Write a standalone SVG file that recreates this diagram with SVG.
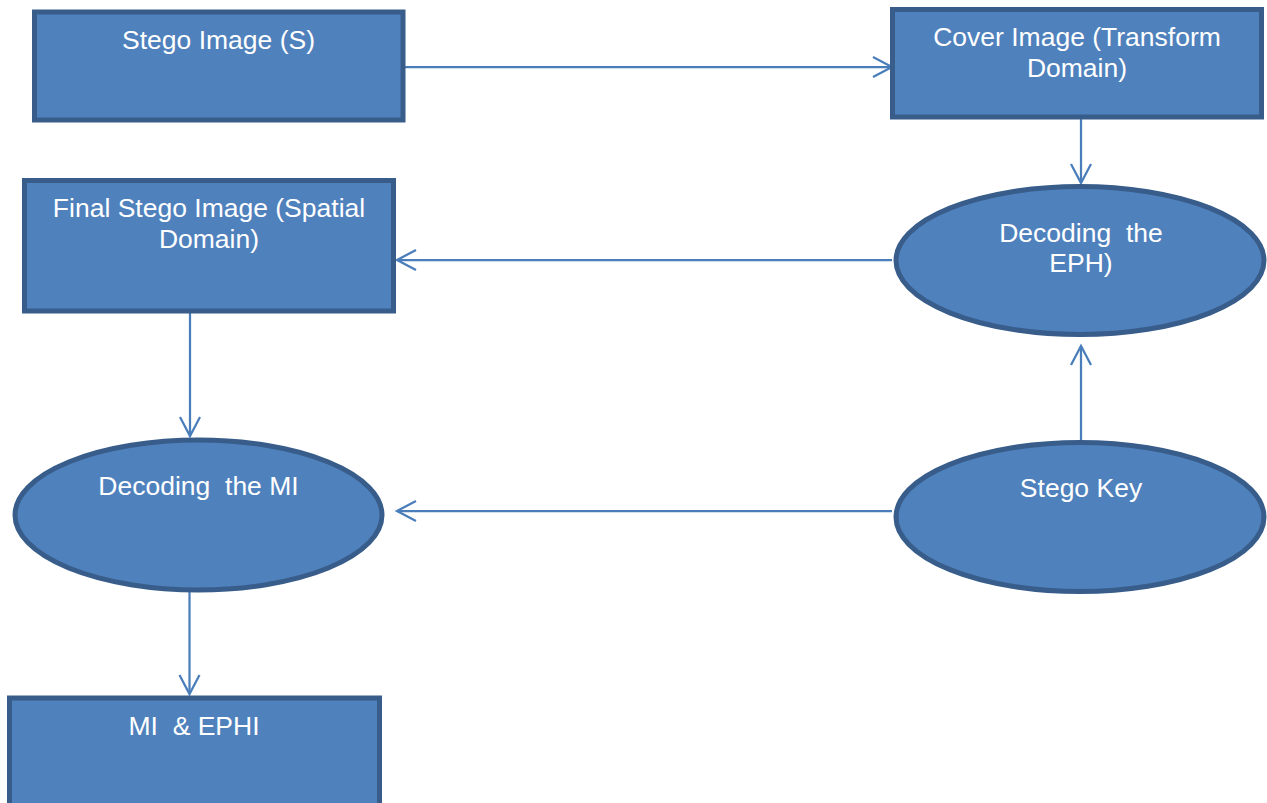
<svg xmlns="http://www.w3.org/2000/svg" width="1267" height="803" viewBox="0 0 1267 803">
<defs>
<style>
.node{fill:#4f81bd;stroke:#385d8a;stroke-width:5}
.lbl{font-family:"Liberation Sans",Arial,sans-serif;font-size:26.5px;fill:#ffffff;text-anchor:middle;white-space:pre}
.conn{stroke:#4a7ebb;stroke-width:2.25;fill:none}
</style>
<marker id="arr" viewBox="0 0 24 24" refX="21" refY="12" markerWidth="24" markerHeight="24" markerUnits="userSpaceOnUse" orient="auto">
<path d="M2,2 L21,12 L2,22" fill="none" stroke="#4a7ebb" stroke-width="2.25"/>
</marker>
</defs>
<rect width="1267" height="803" fill="#ffffff"/>
<g id="connectors">
<line class="conn" x1="403" y1="67" x2="892" y2="67" marker-end="url(#arr)"/>
<line class="conn" x1="1081" y1="119" x2="1081" y2="183" marker-end="url(#arr)"/>
<line class="conn" x1="892" y1="260" x2="397" y2="260" marker-end="url(#arr)"/>
<line class="conn" x1="1081" y1="443" x2="1081" y2="346" marker-end="url(#arr)"/>
<line class="conn" x1="892" y1="511" x2="397" y2="511" marker-end="url(#arr)"/>
<line class="conn" x1="190" y1="313" x2="190" y2="436" marker-end="url(#arr)"/>
<line class="conn" x1="189.5" y1="590" x2="189.5" y2="694" marker-end="url(#arr)"/>
</g>
<g id="stego-image">
<rect class="node" x="34.5" y="12" width="368.5" height="108"/>
<text class="lbl" x="218.5" y="49">Stego Image (S)</text>
</g>
<g id="cover-image">
<rect class="node" x="892.5" y="9.5" width="369" height="107.5"/>
<text class="lbl" x="1077" y="46">Cover Image (Transform</text>
<text class="lbl" x="1077" y="76.5">Domain)</text>
</g>
<g id="decoding-eph">
<ellipse class="node" cx="1080" cy="260.5" rx="184" ry="74"/>
<text class="lbl" x="1081" y="241.5">Decoding  the</text>
<text class="lbl" x="1081" y="271.5">EPH)</text>
</g>
<g id="final-stego">
<rect class="node" x="24.5" y="180.5" width="369" height="130.5"/>
<text class="lbl" x="209" y="217">Final Stego Image (Spatial</text>
<text class="lbl" x="209" y="247.5">Domain)</text>
</g>
<g id="stego-key">
<ellipse class="node" cx="1080" cy="517" rx="184" ry="74.5"/>
<text class="lbl" x="1081" y="497">Stego Key</text>
</g>
<g id="decoding-mi">
<ellipse class="node" cx="198.5" cy="515" rx="183.5" ry="75"/>
<text class="lbl" x="198.5" y="495">Decoding  the MI</text>
</g>
<g id="mi-ephi">
<rect class="node" x="9.5" y="698" width="370" height="120"/>
<text class="lbl" x="194" y="735">MI  &amp; EPHI</text>
</g>
</svg>
